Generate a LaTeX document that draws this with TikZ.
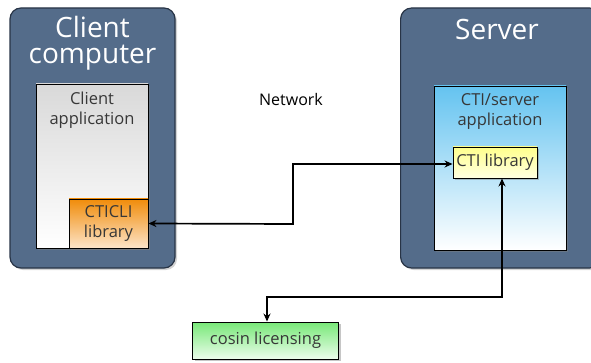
\documentclass[tikz,border=0pt]{standalone}
\usepackage{fontspec}
\setmainfont{Open Sans}
\usetikzlibrary{shadows,arrows.meta}
\definecolor{slate}{RGB}{84,108,138}
\definecolor{slateedge}{RGB}{40,52,70}
\definecolor{txt}{RGB}{55,55,55}
\tikzset{
  bigbox/.style={draw=slateedge, line width=1.2pt, fill=slate, rounded corners=11pt,
    drop shadow={shadow xshift=2pt, shadow yshift=-2pt, opacity=0.35}, inner sep=0pt},
  innerbox/.style={draw=black, line width=0.9pt, inner sep=0pt,
    drop shadow={shadow xshift=2pt, shadow yshift=-2pt, opacity=0.45}},
  title/.style={text=white, font=\fontsize{28}{26}\selectfont, align=center, inner sep=0pt},
  label/.style={text=txt, font=\fontsize{16.5}{20}\selectfont, align=center, inner sep=0pt},
  conn/.style={line width=1.7pt, {Stealth[length=8pt,width=7pt]}-{Stealth[length=8pt,width=7pt]}},
}
\begin{document}
\begin{tikzpicture}[x=1pt,y=-1pt]
\useasboundingbox (0,0) rectangle (591,363);
% big boxes
\node[bigbox, minimum width=165pt, minimum height=260pt] (client) at (92.5,138) {};
\node[bigbox, minimum width=200pt, minimum height=260pt, anchor=west] (server) at (400,138) {};
% titles
\node[title] (clienttitle) at (92.5,43) {Client\\computer};
\node[title] (servertitle) at (497,30) {Server};
% client application
\node[innerbox, top color=black!15, bottom color=white, minimum width=112pt, minimum height=164pt] (capp) at (92,166) {};
\node[label] (capptext) at (92,110) {Client\\application};
\node[innerbox, top color={rgb,255:red,240;green,140;blue,10}, bottom color={rgb,255:red,253;green,228;blue,200}, minimum width=79pt, minimum height=49pt] (cticli) at (108.5,223.5) {};
\node[label] (cticlitext) at (108.5,224) {CTICLI\\library};
% server application
\node[innerbox, top color={rgb,255:red,100;green,195;blue,240}, bottom color=white, minimum width=132pt, minimum height=164pt] (sapp) at (500,168) {};
\node[label] (sapptext) at (500,112) {CTI/server\\application};
\node[innerbox, top color={rgb,255:red,255;green,255;blue,140}, bottom color={rgb,255:red,255;green,255;blue,225}, minimum width=84pt, minimum height=31pt, label, text=txt] (ctilib) at (495,162.5) {CTI library};
% cosin
\node[innerbox, top color={rgb,255:red,120;green,232;blue,120}, bottom color={rgb,255:red,235;green,253;blue,235}, minimum width=146pt, minimum height=37pt, label, text=txt] (cosin) at (265.5,340.5) {cosin licensing};
% network
\node[text=black, font=\fontsize{16}{18}\selectfont, inner sep=0pt] (net) at (291,100) {Network};
% connectors
\draw[conn] (cticli.east) -- (293,224) -- (293,164) -- (ctilib.west |- 0,164);
\draw[conn] (ctilib.south -| 502,0) -- (502,297) -- (267,297) -- (cosin.north -| 267,0);
\end{tikzpicture}
\end{document}
